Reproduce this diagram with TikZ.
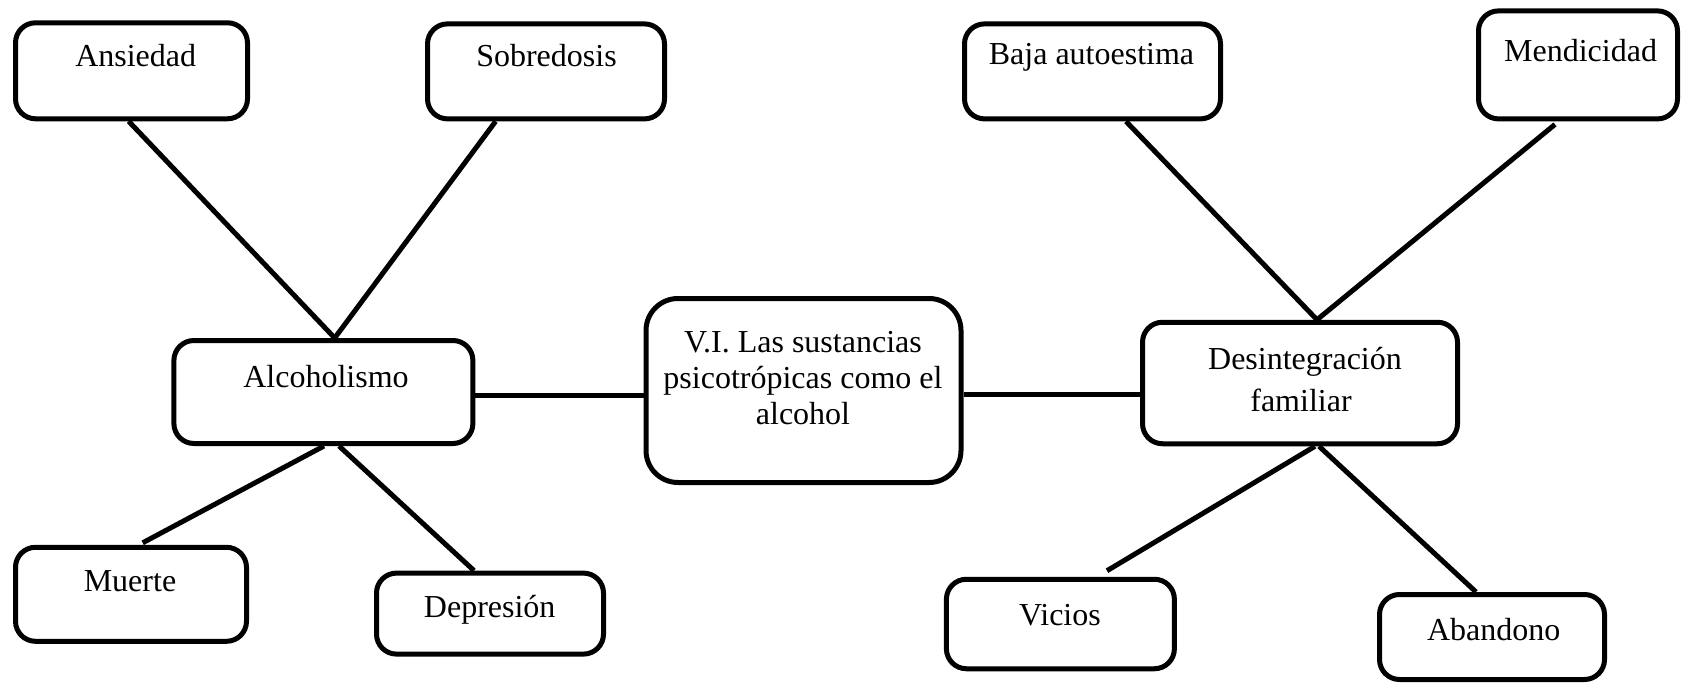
\documentclass[tikz,border=0pt]{standalone}
\usepackage{fontspec}
\setmainfont{Liberation Serif}
\usetikzlibrary{calc}
\begin{document}
\begin{tikzpicture}[x=1pt,y=-1pt,
  box/.style={draw=black,line width=5pt,rounded corners=20pt,fill=white,inner sep=0pt},
  bigbox/.style={box,rounded corners=32pt},
  txt/.style={font=\fontsize{32}{36}\selectfont,anchor=base,inner sep=0pt},
  conn/.style={line width=5pt,line cap=butt}]
\fill[white] (0,0) rectangle (1682,687);
\useasboundingbox (0,0) rectangle (1682,687);
% boxes
\node[box,minimum width=232pt,minimum height=96pt] (ans) at (131.5,70.8) {};
\node[box,minimum width=237pt,minimum height=95pt] (sob) at (546,71.4) {};
\node[box,minimum width=256pt,minimum height=95pt] (baja) at (1092.5,71.4) {};
\node[box,minimum width=199pt,minimum height=108pt] (men) at (1578,64.9) {};
\node[box,minimum width=299pt,minimum height=103pt] (alc) at (323.4,392) {};
\node[bigbox,minimum width=315pt,minimum height=184pt] (ctr) at (803.5,390.5) {};
\node[box,minimum width=315pt,minimum height=121.5pt] (des) at (1300,383) {};
\node[box,minimum width=231pt,minimum height=94pt] (mue) at (131,594.3) {};
\node[box,minimum width=227pt,minimum height=81pt] (dep) at (490,613.6) {};
\node[box,minimum width=228pt,minimum height=89.5pt] (vic) at (1060.4,624) {};
\node[box,minimum width=225pt,minimum height=85pt] (aba) at (1492,637) {};
% texts
\node[txt] (tans) at (135.7,67) {Ansiedad};
\node[txt] (tsob) at (546.5,67) {Sobredosis};
\node[txt] (tbaja) at (1091.5,65) {Baja autoestima};
\node[txt] (tmen) at (1580.6,62) {Mendicidad};
\node[txt] (talc) at (326,387) {Alcoholismo};
\node[txt] (tc1) at (803,352) {V.I. Las sustancias};
\node[txt] (tc2) at (803,388) {psicotrópicas como el};
\node[txt] (tc3) at (803,424) {alcohol};
\node[txt] (td1) at (1305,369) {Desintegración};
\node[txt] (td2) at (1301,411) {familiar};
\node[txt] (tmue) at (130,591) {Muerte};
\node[txt] (tdep) at (489.7,617) {Depresión};
\node[txt] (tvic) at (1060,625) {Vicios};
\node[txt] (taba) at (1493.7,640) {Abandono};
% connectors
\coordinate (atop) at ([xshift=11.3pt]alc.north);
\coordinate (dtop) at ([xshift=17pt]des.north);
\draw[conn] ([xshift=-2.8pt]ans.south) -- (atop);
\draw[conn] ([xshift=-50.4pt]sob.south) -- (atop);
\draw[conn] ([xshift=0.6pt]alc.south) -- ([xshift=11.7pt,yshift=2pt]mue.north);
\draw[conn] ([xshift=15.6pt]alc.south) -- ([xshift=-16pt]dep.north);
\coordinate (al) at ([yshift=-3pt]alc.east);
\draw[conn] (al) -- (al -| ctr.west);
\coordinate (dl) at ([yshift=-11pt]des.west);
\draw[conn] (dl) -- (dl -| ctr.east);
\draw[conn] ([xshift=33.5pt]baja.south) -- (dtop);
\draw[conn] ([xshift=-23pt,yshift=-3pt]men.south) -- (dtop);
\draw[conn] ([xshift=15pt]des.south) -- ([xshift=46.6pt,yshift=6pt]vic.north);
\draw[conn] ([xshift=19pt]des.south) -- ([xshift=-16pt]aba.north);
\end{tikzpicture}
\end{document}
